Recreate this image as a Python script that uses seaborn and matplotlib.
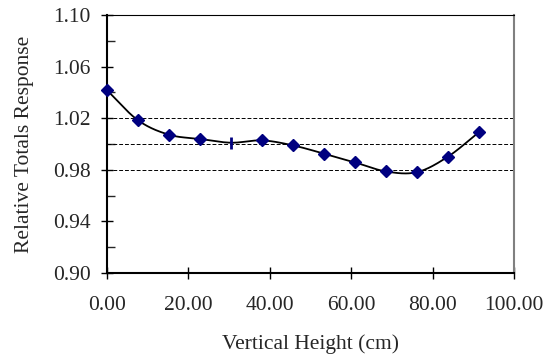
import numpy as np
import pandas as pd
import matplotlib
matplotlib.use("Agg")
import matplotlib.pyplot as plt
import seaborn as sns
from matplotlib.ticker import MultipleLocator, FixedLocator

# data
height_cm = [0.00, 7.62, 15.24, 22.86, 30.48, 38.10, 45.72, 53.34, 60.96, 68.58, 76.20, 83.82, 91.44]
response = [1.0417, 1.0184, 1.0072, 1.0039, 1.0010, 1.0028, 0.9989, 0.9925, 0.9857, 0.9787, 0.9782, 0.9903, 1.0093]
marker_kind = ["D", "D", "D", "D", "|", "D", "D", "D", "D", "D", "D", "D", "D"]
ref_lines = [0.98, 1.00, 1.02]
x_ticks = [0, 20, 40, 60, 80, 100]
y_ticks = [0.90, 0.94, 0.98, 1.02, 1.06, 1.10]

df = pd.DataFrame({"x": height_cm, "y": response, "m": marker_kind})

# smooth curve (Catmull-Rom, like spreadsheet smoothed lines)
def catmull_rom(xs, ys, n=30):
    P = np.column_stack([xs, ys])
    P = np.vstack([P[0] + (P[0] - P[1]), P, P[-1] + (P[-1] - P[-2])])
    out = []
    for i in range(1, len(P) - 2):
        p0, p1, p2, p3 = P[i - 1], P[i], P[i + 1], P[i + 2]
        t = np.linspace(0, 1, n, endpoint=False)[:, None]
        pts = 0.5 * ((2 * p1) + (-p0 + p2) * t + (2 * p0 - 5 * p1 + 4 * p2 - p3) * t ** 2
                     + (-p0 + 3 * p1 - 3 * p2 + p3) * t ** 3)
        out.append(pts)
    out.append(P[-2][None, :])
    return np.vstack(out)

curve = catmull_rom(np.array(height_cm), np.array(response))
cdf = pd.DataFrame({"x": curve[:, 0], "y": curve[:, 1]})

sns.set_theme(style="white")
plt.rcParams["font.family"] = ["Liberation Serif", "DejaVu Serif"]

FS = 15.5
fig = plt.figure(figsize=(5.52, 3.60), dpi=100)
ax = fig.add_axes([0.1938, 0.2417, 0.7374, 0.7166])

for yv in ref_lines:
    ax.axhline(yv, color="black", lw=0.7, ls=(0, (4, 2)), zorder=1)

sns.lineplot(data=cdf, x="x", y="y", ax=ax, color="black", lw=1.3, sort=False, zorder=2)
dd = df[df.m == "D"]
ax.plot(dd.x, dd.y, ls="none", marker="D", ms=6.2, color="#000080", mec="#000080", zorder=5,
        clip_on=False)
dt = df[df.m == "|"]
ax.plot(dt.x, dt.y, ls="none", marker="|", ms=9, mew=2, color="#000080", zorder=5, clip_on=False)

ax.set_xlim(0, 100)
ax.set_ylim(0.90, 1.10)
ax.xaxis.set_major_locator(FixedLocator(x_ticks))
ax.yaxis.set_major_locator(FixedLocator(y_ticks))
ax.yaxis.set_minor_locator(MultipleLocator(0.02))
ax.set_xticklabels([f"{v:.2f}" for v in x_ticks])
ax.set_yticklabels([f"{v:.2f}" for v in y_ticks])

ax.tick_params(axis="both", which="major", direction="inout", length=9, width=1, color="black",
               labelsize=FS, bottom=True, left=True)
ax.tick_params(axis="x", which="major", pad=12)
ax.tick_params(axis="y", which="major", pad=7)
ax.tick_params(axis="y", which="minor", direction="in", length=6, width=1, left=True)

ax.set_xlabel("Vertical Height (cm)", fontsize=FS, labelpad=14)
ax.set_ylabel("Relative Totals Response", fontsize=FS, labelpad=14)

for s in ["left", "bottom"]:
    ax.spines[s].set_color("black")
    ax.spines[s].set_linewidth(1.5)
ax.spines["top"].set_color("black")
ax.spines["top"].set_linewidth(0.8)
ax.spines["right"].set_color("#808080")
ax.spines["right"].set_linewidth(1.5)

fig.savefig("out.png", dpi=100)
